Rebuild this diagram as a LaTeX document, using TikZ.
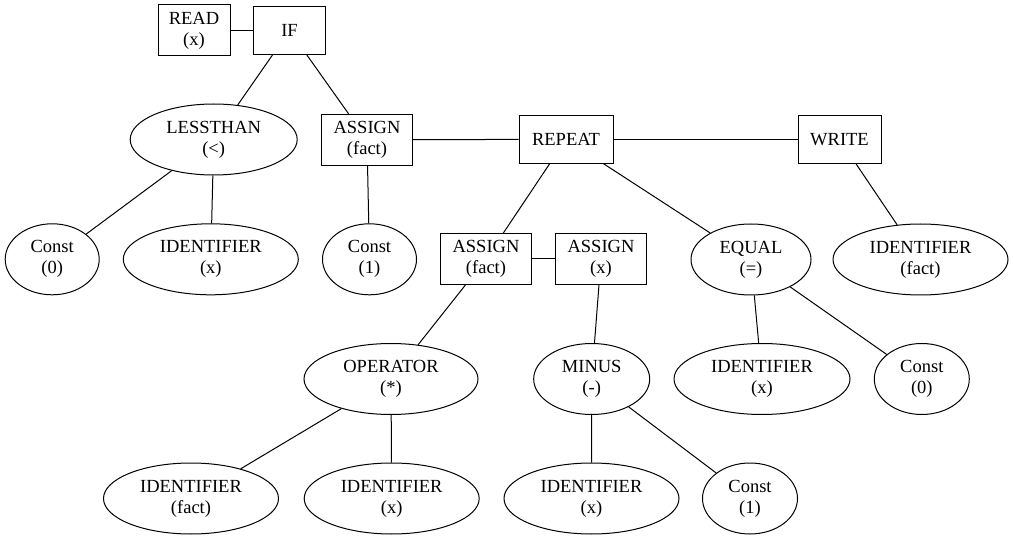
\documentclass[tikz,border=0pt]{standalone}
\usepackage{fontspec}
\setmainfont{Liberation Serif}
\usetikzlibrary{shapes.geometric}
\begin{document}
\begin{tikzpicture}[x=1pt,y=-1pt,
  every node/.style={font=\fontsize{18.5}{21}\selectfont, align=center, inner sep=0pt, line width=1pt},
  box/.style={draw, rectangle, minimum height=48pt},
  box2/.style={draw, rectangle, minimum height=51pt},
  ell/.style={draw, ellipse, minimum height=71pt},
  edge/.style={line width=1pt}]
\useasboundingbox (0,0) rectangle (1013,540);
% row 0
\node[box2, minimum width=72pt] (read) at (194,30.5) {READ\\(x)};
\node[box, minimum width=72pt] (if) at (289.5,30.5) {IF};
% row 1
\node[ell, minimum width=167pt] (lt) at (213.7,139.5) {LESSTHAN\\(<)};
\node[box2, minimum width=91pt] (asf) at (367,139.8) {ASSIGN\\(fact)};
\node[box, minimum width=94pt] (rep) at (566,139.3) {REPEAT};
\node[box, minimum width=83pt] (wr) at (839.5,139.3) {WRITE};
% row 2
\node[ell, minimum width=94pt] (c0) at (52.2,259.3) {Const\\(0)};
\node[ell, minimum width=175pt] (idx1) at (210.8,259.3) {IDENTIFIER\\(x)};
\node[ell, minimum width=94pt] (c1) at (369.5,259.3) {Const\\(1)};
\node[box2, minimum width=91pt] (asf2) at (486,259) {ASSIGN\\(fact)};
\node[box2, minimum width=91pt] (asx) at (601,259) {ASSIGN\\(x)};
\node[ell, minimum width=120pt] (eq) at (751,259.5) {EQUAL\\(=)};
\node[ell, minimum width=175pt] (idf1) at (920.5,259.5) {IDENTIFIER\\(fact)};
% row 3
\node[ell, minimum width=174pt] (op) at (391,379) {OPERATOR\\(*)};
\node[ell, minimum width=116pt] (mi) at (591.7,379) {MINUS\\(-)};
\node[ell, minimum width=176pt] (idx2) at (762,379) {IDENTIFIER\\(x)};
\node[ell, minimum width=95pt] (c0b) at (921.8,379) {Const\\(0)};
% row 4
\node[ell, minimum width=175pt] (idf2) at (191,498.5) {IDENTIFIER\\(fact)};
\node[ell, minimum width=175pt] (idx3) at (391.7,498.5) {IDENTIFIER\\(x)};
\node[ell, minimum width=175pt] (idx4) at (591.5,498.5) {IDENTIFIER\\(x)};
\node[ell, minimum width=95pt] (c1b) at (750,498.5) {Const\\(1)};
% edges
\draw[edge] (read) -- (if);
\draw[edge] (if) -- (lt);
\draw[edge] (if) -- (asf);
\draw[edge] (lt) -- (c0);
\draw[edge] (lt) -- (idx1);
\draw[edge] (asf) -- (rep);
\draw[edge] (rep) -- (wr);
\draw[edge] (asf) -- (c1);
\draw[edge] (rep) -- (asf2);
\draw[edge] (rep) -- (eq);
\draw[edge] (asf2) -- (asx);
\draw[edge] (asf2) -- (op);
\draw[edge] (op) -- (idf2);
\draw[edge] (op) -- (idx3);
\draw[edge] (asx) -- (mi);
\draw[edge] (mi) -- (idx4);
\draw[edge] (mi) -- (c1b);
\draw[edge] (eq) -- (idx2);
\draw[edge] (eq) -- (c0b);
\draw[edge] (wr) -- (idf1);
\end{tikzpicture}
\end{document}
